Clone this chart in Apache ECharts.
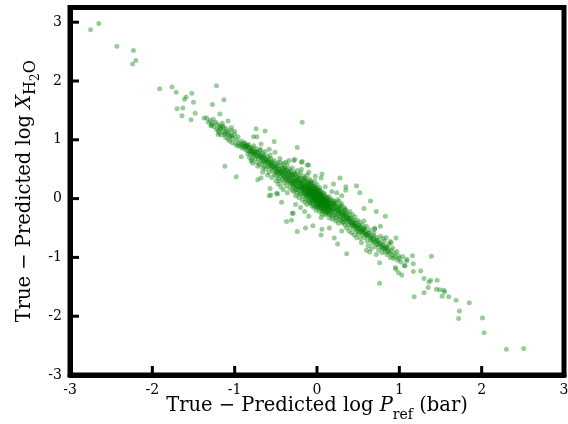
<!DOCTYPE html>
<html>
<head>
<meta charset="utf-8">
<script src="https://cdn.jsdelivr.net/npm/echarts@6/dist/echarts.min.js"></script>
<style>
html,body{margin:0;padding:0;background:#fff;}
#chart{width:568px;height:424px;}
</style>
</head>
<body>
<div id="chart"></div>
<script>
// Axis ticks
const xTicks = [-3, -2, -1, 0, 1, 2, 3];
const yTicks = [-3, -2, -1, 0, 1, 2, 3];

// Isolated points in the upper-left tail
const upperTail = [
  [-2.75,2.87],[-2.65,2.98],[-2.43,2.59],[-2.23,2.52],[-2.20,2.35],[-2.24,2.29],
  [-1.91,1.87],[-1.76,1.90],[-1.71,1.81],[-1.22,1.92],[-1.59,1.73],[-1.61,1.69],
  [-1.52,1.79],[-1.50,1.64],[-1.13,1.68],[-1.70,1.53],[-1.63,1.54],[-1.27,1.60],
  [-1.64,1.41],[-1.48,1.45],[-1.53,1.34],[-1.18,1.44],[-1.37,1.37],[-1.34,1.37],
  [-1.32,1.30],[-1.27,1.28],[-1.29,1.24],[-1.15,1.28],[-1.08,1.32],[-1.18,1.21],
  [-1.14,1.21],[-1.20,1.16],[-1.04,1.21],[-1.10,1.15],[-1.20,1.09],[-1.12,1.09],
  [-1.00,1.14],[-1.06,1.07],[-1.03,1.07]
];

// Isolated points in the lower-right tail
const lowerTail = [
  [1.16,-0.97],[1.39,-0.98],[1.09,-1.06],[1.17,-1.11],[1.07,-1.14],[1.17,-1.24],
  [1.26,-1.23],[0.96,-1.20],[0.99,-1.26],[1.03,-1.30],[1.30,-1.36],[1.38,-1.39],
  [1.36,-1.42],[1.46,-1.39],[1.35,-1.51],[1.30,-1.60],[1.18,-1.67],[1.45,-1.54],
  [1.49,-1.55],[1.54,-1.56],[1.55,-1.59],[1.52,-1.66],[1.60,-1.67],[1.69,-1.73],
  [1.85,-1.77],[1.73,-1.91],[1.72,-2.04],[2.01,-2.03],[2.03,-2.28],[2.30,-2.56],
  [2.51,-2.55],[0.76,-1.44],[1.06,-1.14],[0.95,-1.17],[0.76,-1.09],[0.64,-0.91],
  [1.09,-1.03]
];

// Scattered points around the main band
const strayPoints = [
  [-0.18,1.30],[-0.74,1.19],[-0.63,1.15],[-0.73,1.05],[-0.77,1.05],[-0.52,0.97],
  [-0.24,0.87],[-0.18,0.63],[-0.12,0.57],[-0.19,0.50],[-0.28,0.65],[-0.51,0.79],
  [-0.58,0.84],[-0.68,0.93],[-0.69,0.84],[-0.80,0.80],[-0.80,0.64],[-0.92,0.71],
  [-1.12,0.55],[-0.98,0.37],[-0.68,0.35],[-0.72,0.32],[-0.57,0.17],[-0.58,0.05],
  [-0.48,0.08],[-0.43,-0.06],[-0.30,-0.25],[-0.29,-0.25],[-0.56,0.06],[-0.49,0.09],
  [-0.66,0.45],[0.28,0.35],[0.06,0.42],[-0.19,0.62],[-0.10,0.57],[-0.27,0.67],
  [0.35,0.14],[0.48,0.22],[0.52,0.10],[0.65,-0.04],[0.72,-0.22],[0.83,-0.30],
  [0.57,-0.17],[0.96,-0.67],[-0.24,-0.56],[-0.37,-0.39],[-0.31,-0.37],[-0.14,-0.50],
  [-0.05,-0.46],[0.06,-0.52],[0.05,-0.62],[0.15,-0.50],[0.21,-0.67],[0.25,-0.77],
  [0.36,-0.94],[0.30,-0.55],[0.70,-0.52],[0.77,-0.47],[0.84,-0.66],[0.89,-0.73],
  [0.70,-0.50]
];

// Main band, upper-left part
const bandUpper = [
  [-1.30,1.33],[-1.28,1.25],[-1.26,1.35],[-1.25,1.22],[-1.23,1.30],[-1.22,1.18],
  [-1.21,1.26],[-1.19,1.12],[-1.18,1.24],[-1.17,1.19],[-1.16,1.08],[-1.15,1.15],
  [-1.14,1.23],[-1.12,1.12],[-1.11,1.04],[-1.10,1.19],[-1.09,1.10],[-1.08,1.01],
  [-1.07,1.13],[-1.06,0.98],[-1.05,1.06],[-1.04,1.16],[-1.03,0.95],[-1.02,1.02],
  [-1.00,1.09],[-0.99,0.93],[-0.98,1.00],[-0.97,0.90],[-0.96,1.05],[-0.95,0.95],
  [-0.94,0.89],[-0.93,0.92],[-0.92,0.98],[-0.91,0.86],[-0.90,0.91],[-0.89,0.88],
  [-0.88,0.95],[-0.87,0.84],[-0.86,0.90],
  [-0.85,0.82],[-0.84,0.88],[-0.84,0.76],[-0.83,0.92],[-0.82,0.80],[-0.82,0.70],
  [-0.81,0.86],[-0.80,0.75],[-0.79,0.83],[-0.79,0.66],[-0.78,0.78],[-0.77,0.90],
  [-0.77,0.72],[-0.76,0.81],[-0.75,0.68],[-0.75,0.76],[-0.74,0.85],[-0.73,0.62],
  [-0.73,0.73],[-0.72,0.79],[-0.71,0.68],[-0.70,0.74],[-0.70,0.58],[-0.69,0.82],
  [-0.68,0.66],[-0.68,0.71],[-0.67,0.60],[-0.66,0.77],[-0.66,0.64],[-0.65,0.69],
  [-0.64,0.55],[-0.64,0.73],[-0.63,0.62],[-0.62,0.67],[-0.62,0.50],[-0.61,0.58],
  [-0.60,0.71],[-0.60,0.63],[-0.59,0.54],[-0.58,0.66],[-0.58,0.45],[-0.57,0.60],
  [-0.56,0.52],[-0.56,0.68],[-0.55,0.57],[-0.54,0.48],[-0.54,0.62],[-0.53,0.55],
  [-0.52,0.41],[-0.52,0.65],[-0.51,0.50],[-0.50,0.58],[-0.50,0.44],[-0.66,0.52],
  [-0.72,0.55],[-0.60,0.40],[-0.55,0.36],[-0.78,0.60],[-0.63,0.80],[-0.57,0.74],
  [-0.49,0.53],[-0.49,0.38],[-0.48,0.61],[-0.48,0.46],[-0.47,0.34],[-0.47,0.55],
  [-0.46,0.42],[-0.46,0.50],[-0.45,0.62],[-0.45,0.30],[-0.44,0.47],[-0.44,0.39],
  [-0.43,0.56],[-0.43,0.44],[-0.42,0.33],[-0.42,0.51],[-0.41,0.40],[-0.41,0.60],
  [-0.40,0.46],[-0.40,0.27],[-0.39,0.36],[-0.39,0.53],[-0.38,0.43],[-0.38,0.31],
  [-0.37,0.49],[-0.37,0.22],[-0.36,0.39],[-0.36,0.57],[-0.35,0.45],[-0.35,0.33],
  [-0.34,0.28],[-0.34,0.50],[-0.33,0.40],[-0.33,0.18],[-0.32,0.36],[-0.32,0.47],
  [-0.31,0.25],[-0.31,0.42],[-0.30,0.31],[-0.30,0.52],[-0.30,0.14],[-0.44,0.20],
  [-0.41,0.15],[-0.36,0.10],[-0.47,0.25],[-0.50,0.30],[-0.38,0.62],[-0.34,0.65],
  [-0.45,0.68]
];

// Main band, dense core
const bandCore = [
  [-0.29,0.38],[-0.29,0.22],[-0.28,0.45],[-0.28,0.30],[-0.28,0.12],[-0.27,0.34],
  [-0.27,0.25],[-0.26,0.41],[-0.26,0.18],[-0.26,0.05],[-0.25,0.29],[-0.25,0.36],
  [-0.24,0.22],[-0.24,0.48],[-0.24,0.10],[-0.23,0.31],[-0.23,0.15],[-0.22,0.40],
  [-0.22,0.26],[-0.22,0.02],[-0.21,0.34],[-0.21,0.19],[-0.20,0.28],[-0.20,0.09],
  [-0.20,0.44],[-0.19,0.22],[-0.19,0.35],[-0.18,0.14],[-0.18,0.27],[-0.18,-0.02],
  [-0.17,0.31],[-0.17,0.20],[-0.16,0.08],[-0.16,0.38],[-0.16,0.24],[-0.15,0.16],
  [-0.15,0.29],[-0.15,-0.06],[-0.14,0.21],[-0.14,0.11],[-0.14,0.33],[-0.13,0.03],
  [-0.13,0.25],[-0.12,0.17],[-0.12,0.40],[-0.12,-0.10],[-0.11,0.12],[-0.11,0.28],
  [-0.10,0.06],[-0.10,0.20],[-0.10,-0.03],[-0.09,0.15],[-0.09,0.33],[-0.08,0.09],
  [-0.08,0.24],[-0.08,-0.08],[-0.07,0.02],[-0.07,0.18],[-0.06,0.11],[-0.06,-0.12],
  [-0.06,0.27],[-0.05,0.05],[-0.05,0.14],[-0.05,-0.02],[-0.04,0.21],[-0.04,0.08],
  [-0.04,-0.15],[-0.03,0.00],[-0.03,0.12],[-0.03,0.30],[-0.02,0.04],[-0.02,-0.07],
  [-0.02,0.17],[-0.01,-0.01],[-0.01,0.09],[-0.01,-0.20],[0.00,0.02],[0.00,0.14],
  [0.00,-0.10],[0.00,0.24],[0.01,-0.04],[0.01,0.06],[0.01,-0.15],[0.02,0.00],
  [0.02,0.11],[0.02,-0.08],[0.03,-0.02],[0.03,0.19],[0.03,-0.22],[0.04,0.04],
  [0.04,-0.11],[0.04,0.08],[0.05,-0.05],[0.05,-0.17],[0.05,0.13],[0.06,-0.01],
  [0.06,-0.09],[0.06,-0.26],[0.07,0.03],[0.07,-0.14],[0.08,-0.06],[0.08,0.10],
  [0.08,-0.20],[0.09,-0.02],[0.09,-0.11],[0.10,-0.16],[0.10,0.05],[0.10,-0.28],
  [0.11,-0.07],[0.11,-0.21],[0.12,-0.12],[0.12,0.01],[0.13,-0.17],[0.13,-0.04],
  [0.14,-0.25],[0.14,-0.10],[0.15,-0.14],[0.15,0.03],[0.15,-0.33],[0.16,-0.20],
  [0.16,-0.07],[0.17,-0.11],[0.17,-0.27],[0.18,-0.16],[0.18,-0.02],[0.19,-0.22],
  [0.19,-0.35],[0.20,-0.09],[0.20,-0.18],[0.21,-0.28],[0.21,-0.04],[0.22,-0.14],
  [0.22,-0.24],[0.23,-0.38],[0.23,-0.08],[0.24,-0.20],[0.24,-0.30],[0.25,-0.12],
  [0.25,-0.26],[0.26,-0.17],[0.26,-0.42],[0.27,-0.22],[0.27,-0.05],[0.28,-0.31],
  [0.28,-0.14],[0.29,-0.25],[0.29,-0.37],[0.30,-0.19],[0.30,-0.09],
  [-0.07,0.07],[0.02,0.03],[-0.04,0.02],[0.06,0.04],[-0.09,0.04],[0.03,0.07],
  [-0.02,-0.12],[0.07,-0.03],[-0.11,0.01],[0.04,-0.05],[-0.06,0.16],[0.09,0.02],
  [0.11,-0.01],[-0.13,0.14],[0.12,-0.05],[-0.08,0.12],[0.05,0.01],[-0.01,0.04],
  [0.01,0.10],[0.08,-0.01],[-0.03,-0.04],[-0.10,0.10],[0.13,-0.08],[0.14,-0.03],
  [-0.20,-0.15],[-0.15,-0.22],[-0.10,-0.30],[0.05,-0.32],[-0.26,-0.10],[0.18,0.12],
  [0.24,0.10],[0.30,0.05],[0.10,0.20],[0.05,0.35],[-0.10,0.45],[-0.02,0.38],
  [0.20,0.25],[0.35,0.20]
];

// Extra points where the band overlaps most
const bandDense = [
  [-0.05,0.08],[-0.03,0.05],[0.00,0.06],[0.02,-0.03],[0.04,0.01],[-0.06,0.03],
  [-0.02,0.10],[0.01,0.01],[0.03,-0.06],[-0.04,-0.01],[0.06,-0.04],[-0.08,0.05],
  [0.07,0.00],[-0.01,-0.05],[0.05,-0.08],[-0.07,0.12],[0.00,-0.02],[0.02,0.07],
  [-0.09,0.09],[0.08,-0.09],[-0.03,0.15],[0.04,-0.13],[-0.12,0.07],[0.10,-0.04],
  [-0.05,0.19],[0.06,-0.16],[-0.11,0.16],[0.09,-0.13],[-0.14,0.06],[0.11,-0.10],
  [-0.01,0.13],[0.01,-0.09],[-0.06,-0.05],[0.05,0.06],[-0.15,0.20],[0.13,-0.15],
  [-0.17,0.13],[0.15,-0.06],[-0.18,0.22],[0.16,-0.13],[-0.20,0.17],[0.18,-0.09],
  [-0.21,0.26],[0.19,-0.17],[-0.23,0.20],[0.21,-0.11],[-0.24,0.31],[0.22,-0.19],
  [-0.26,0.24],[0.24,-0.15],[-0.27,0.30],[0.26,-0.23],[-0.29,0.28],[0.27,-0.18],
  [-0.31,0.34],[0.29,-0.28],[-0.33,0.30],[0.31,-0.24],[-0.35,0.38],[0.33,-0.33],
  [-0.37,0.35],[0.35,-0.27],[-0.39,0.42],[0.37,-0.36],[-0.41,0.37],[0.39,-0.33],
  [-0.43,0.47],[0.41,-0.40],[-0.45,0.43],[0.43,-0.45],[-0.47,0.50],[0.45,-0.42],
  [-0.49,0.46],[0.47,-0.47],[-0.51,0.55],[0.49,-0.51],[-0.53,0.52],[0.51,-0.46],
  [-0.55,0.60],[0.53,-0.53],[-0.57,0.56],[0.55,-0.57],[-0.59,0.62],[0.57,-0.52],
  [-0.61,0.66],[0.59,-0.60],[-0.63,0.64],[0.61,-0.63],[-0.65,0.72],[0.63,-0.59],
  [-0.67,0.69],[0.65,-0.66],[-0.69,0.75],[0.67,-0.70],[-0.71,0.72],[0.69,-0.64],
  [-0.73,0.79],[0.71,-0.74],[-0.75,0.80],[0.73,-0.71],[-0.77,0.76],[0.75,-0.79],
  [-0.79,0.86],[0.77,-0.76],[-0.81,0.81],[0.79,-0.84],[-0.83,0.87],[0.81,-0.80],
  [-0.85,0.91],[0.83,-0.86],[-0.87,0.88],[0.85,-0.82],[-0.89,0.94],[0.87,-0.90],
  [-0.12,0.22],[-0.09,0.19],[-0.07,-0.02],[-0.04,0.11],[-0.02,0.01],[0.00,0.09],
  [0.03,0.03],[0.05,-0.11],[0.07,-0.07],[0.09,-0.05],[0.11,-0.15],[0.13,-0.12],
  [-0.13,0.19],[-0.16,0.15],[-0.19,0.18],[-0.10,0.25],[-0.08,0.29],[0.12,-0.23],
  [0.15,-0.18],[0.17,-0.21],[-0.06,0.21],[0.07,-0.19],[-0.15,0.11],[0.14,-0.20],
  [0.02,-0.14],[-0.01,0.18],[0.10,-0.09],[-0.11,0.09],[0.00,-0.06],[0.03,0.14],
  [-0.40,0.52],[-0.38,0.48],[-0.36,0.30],[-0.34,0.44],[-0.32,0.26],[-0.30,0.40],
  [-0.28,0.20],[-0.27,0.42],[-0.25,0.15],[-0.23,0.36],[-0.21,0.08],[-0.19,0.28],
  [-0.17,0.04],[-0.15,0.35],[-0.13,-0.02],[-0.11,0.22],[-0.09,-0.06],[-0.07,0.26],
  [-0.05,-0.09],[-0.03,0.22],[-0.01,-0.13],[0.01,0.16],[0.03,-0.17],[0.05,0.10],
  [0.07,-0.22],[0.09,0.07],[0.11,-0.25],[0.13,0.02],[0.15,-0.27],[0.17,-0.03],
  [0.19,-0.30],[0.21,-0.07],[0.23,-0.33],[0.25,-0.02],[0.27,-0.35],[0.29,-0.12],
  [0.32,-0.40],[0.34,-0.18],[-0.12,0.30],[-0.06,0.08],[0.00,0.00],[0.04,-0.02],
  [-0.02,0.06],[0.08,-0.12],[-0.10,0.14],[0.06,0.00],[-0.04,0.04],[0.02,-0.10],
  [-0.08,0.16],[0.10,-0.19]
];

// Main band, lower-right part
const bandLower = [
  [0.31,-0.28],[0.31,-0.41],[0.32,-0.22],[0.32,-0.35],[0.33,-0.15],[0.33,-0.30],
  [0.34,-0.45],[0.34,-0.26],[0.35,-0.36],[0.35,-0.20],[0.36,-0.31],[0.36,-0.50],
  [0.37,-0.40],[0.37,-0.25],[0.38,-0.34],[0.38,-0.44],[0.39,-0.29],[0.39,-0.55],
  [0.40,-0.38],[0.40,-0.22],[0.41,-0.47],[0.41,-0.33],[0.42,-0.41],[0.42,-0.58],
  [0.43,-0.36],[0.43,-0.27],[0.44,-0.50],[0.44,-0.43],[0.45,-0.38],[0.45,-0.62],
  [0.46,-0.46],[0.46,-0.31],[0.47,-0.53],[0.47,-0.41],[0.48,-0.48],[0.48,-0.66],
  [0.49,-0.37],[0.49,-0.56],[0.50,-0.44],[0.50,-0.60],[0.51,-0.51],[0.52,-0.40],
  [0.52,-0.57],[0.53,-0.48],[0.53,-0.68],[0.54,-0.54],[0.55,-0.45],[0.55,-0.61],
  [0.56,-0.52],[0.57,-0.58],[0.57,-0.38],[0.58,-0.66],[0.58,-0.50],[0.59,-0.56],
  [0.60,-0.62],[0.60,-0.47],[0.61,-0.72],[0.62,-0.58],[0.63,-0.64],[0.64,-0.53],
  [0.65,-0.70],
  [0.66,-0.62],[0.67,-0.76],[0.68,-0.68],[0.69,-0.58],[0.70,-0.73],[0.71,-0.82],
  [0.72,-0.66],[0.73,-0.78],[0.74,-0.71],[0.75,-0.88],[0.76,-0.75],[0.77,-0.64],
  [0.78,-0.82],[0.79,-0.92],[0.80,-0.78],[0.81,-0.85],[0.82,-0.72],[0.83,-0.90],
  [0.84,-0.83],[0.85,-0.95],[0.86,-0.86],[0.87,-0.78],[0.88,-0.92],[0.89,-1.00],
  [0.90,-0.88],[0.91,-0.96],[0.92,-0.84],[0.93,-1.02],[0.94,-0.93],[0.95,-0.99],
  [0.97,-0.90],[0.98,-1.05],[0.99,-0.97],[1.00,-1.02],[1.02,-1.08],[1.04,-0.99],
  [0.72,-0.95],[0.66,-0.85],[0.62,-0.80],[0.54,-0.75],[0.60,-0.88],[0.80,-0.68],
  [0.90,-0.75]
];

const allPoints = [].concat(upperTail, strayPoints, bandUpper, bandCore, bandDense, bandLower, lowerTail);

const X_MIN = xTicks[0], Y_MIN = yTicks[0], Y_MAX = 3.25;
const TICK_LEN = 9, TICK_W = 3;
const FONT = 'DejaVu Serif';
const frameLine = {show: true, onZero: false, lineStyle: {color: '#000', width: 5}};

const chart = echarts.init(document.getElementById('chart'), null, {renderer: 'canvas'});
chart.setOption({
  animation: false,
  backgroundColor: '#ffffff',
  grid: {
    left: 70, right: 4, top: 7.5, bottom: 49,
    containLabel: false, outerBoundsMode: 'none',
    show: true, borderColor: '#000', borderWidth: 5, backgroundColor: 'transparent'
  },
  xAxis: {
    type: 'value', min: X_MIN, max: xTicks[xTicks.length - 1], interval: 1,
    splitLine: {show: false},
    axisLine: frameLine,
    axisTick: {show: false},
    axisLabel: {color: '#000', fontFamily: FONT, fontSize: 14, margin: 8,
      formatter: v => xTicks.includes(v) ? String(v) : ''},
    name: '{n|True − Predicted log }{i|P}{s|ref}{n| (bar)}',
    nameLocation: 'middle', nameGap: 18, nameMoveOverlap: false,
    nameTextStyle: {
      rich: {
        n: {fontFamily: FONT, fontSize: 19.5, color: '#000', lineHeight: 26, verticalAlign: 'middle'},
        i: {fontFamily: FONT, fontSize: 19.5, fontStyle: 'italic', color: '#000', lineHeight: 26, verticalAlign: 'middle'},
        s: {fontFamily: FONT, fontSize: 14, color: '#000', lineHeight: 26, verticalAlign: 'bottom', padding: [0,0,-3,0]}
      }
    }
  },
  yAxis: {
    type: 'value', min: Y_MIN, max: Y_MAX, interval: 1,
    splitLine: {show: false},
    axisLine: frameLine,
    axisTick: {show: false},
    axisLabel: {color: '#000', fontFamily: FONT, fontSize: 14, margin: 8, showMaxLabel: false,
      formatter: v => yTicks.includes(v) ? String(v) : ''},
    name: '{n|True − Predicted log }{i|X}{h|H}{t|2}{h|O}',
    nameLocation: 'middle', nameGap: 31, nameRotate: 90, nameMoveOverlap: false,
    nameTextStyle: {
      rich: {
        n: {fontFamily: FONT, fontSize: 19.5, color: '#000', lineHeight: 28, verticalAlign: 'middle'},
        i: {fontFamily: FONT, fontSize: 19.5, fontStyle: 'italic', color: '#000', lineHeight: 28, verticalAlign: 'middle'},
        h: {fontFamily: FONT, fontSize: 16, color: '#000', lineHeight: 28, verticalAlign: 'bottom', padding: [0,0,0,0]},
        t: {fontFamily: FONT, fontSize: 12, color: '#000', lineHeight: 28, verticalAlign: 'bottom', padding: [0,0,-3,0]}
      }
    }
  },
  series: [
    {
      type: 'scatter',
      data: allPoints,
      symbolSize: 5,
      itemStyle: {color: 'rgba(0,128,0,0.5)'},
      z: 2
    }
  ]
});

// Inward tick marks on the bottom and left edges, positioned through the axes' own scales
const tickLines = [];
xTicks.slice(1, -1).forEach(v => {
  const p = chart.convertToPixel({gridIndex: 0}, [v, Y_MIN]);
  tickLines.push({type: 'line', z: 100, silent: true,
    shape: {x1: p[0], y1: p[1], x2: p[0], y2: p[1] - TICK_LEN},
    style: {stroke: '#000', lineWidth: TICK_W}});
});
yTicks.slice(1).forEach(v => {
  const p = chart.convertToPixel({gridIndex: 0}, [X_MIN, v]);
  tickLines.push({type: 'line', z: 100, silent: true,
    shape: {x1: p[0], y1: p[1], x2: p[0] + TICK_LEN, y2: p[1]},
    style: {stroke: '#000', lineWidth: TICK_W}});
});
chart.setOption({graphic: {elements: tickLines}});
</script>
</body>
</html>
